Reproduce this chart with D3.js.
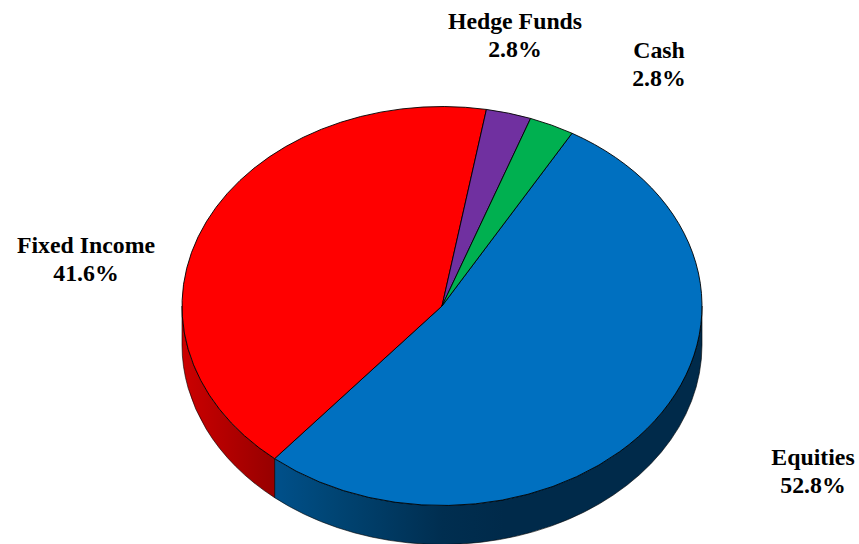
<!DOCTYPE html>
<html><head><meta charset="utf-8">
<script src="https://cdn.jsdelivr.net/npm/d3@7"></script>
<style>html,body{margin:0;padding:0;background:#fff}svg{display:block}
text{font-family:"Liberation Serif","Times New Roman",serif;font-weight:bold;font-size:23.8px;fill:#000;text-anchor:middle}</style>
</head><body><svg width="859" height="544"></svg>
<script>
const categories=["Equities","Fixed Income","Hedge Funds","Cash"];
const values=[52.8,41.6,2.8,2.8];
const colors=["#0070c0","#ff0000","#7030a0","#00b050"];
const labelX=[813,86,515,659];
const labelY=[465,253,29,58];
const W=859,H=544,cx=442,cy=306,rx=260,ry=199.5,depth=39;
const k=ry/rx, sd=depth/k;
const svg=d3.select("svg");
const defs=svg.append("defs");
function grad(id,stops){
  const g=defs.append("linearGradient").attr("id",id).attr("gradientUnits","userSpaceOnUse")
    .attr("x1",-rx).attr("x2",rx).attr("y1",0).attr("y2",0);
  stops.forEach(s=>g.append("stop").attr("offset",s[0]).attr("stop-color",s[1]));
}
grad("wall0",[[0,"#00518c"],[0.17,"#00518c"],[0.28,"#004676"],[0.5,"#002e50"],[0.62,"#002a4a"],[1,"#002a4a"]]);
grad("wall1",[[0,"#cc0000"],[0.17,"#990000"],[1,"#990000"]]);
const pie=d3.pie().sort(null).startAngle(Math.PI/6).endAngle(Math.PI/6+2*Math.PI);
const arcs=pie(values);
const arc=d3.arc().innerRadius(0).outerRadius(rx);
const g=svg.append("g").attr("transform",`translate(${cx},${cy}) scale(1,${k})`);
const lo=Math.PI/2, hi=3*Math.PI/2;
arcs.forEach((d,i)=>{
  const a0=Math.max(d.startAngle,lo), a1=Math.min(d.endAngle,hi);
  if(a1<=a0)return;
  const p=d3.path(), t=a=>a-Math.PI/2;
  p.arc(0,0,rx,t(a0),t(a1));
  p.lineTo(rx*Math.cos(t(a1)),sd+rx*Math.sin(t(a1)));
  p.arc(0,sd,rx,t(a1),t(a0),true);
  p.closePath();
  g.append("path").attr("d",p.toString()).attr("fill",`url(#wall${i})`)
   .attr("stroke","#000").attr("stroke-width",0.6).attr("vector-effect","non-scaling-stroke");
});
g.selectAll("path.slice").data(arcs).join("path").attr("class","slice")
 .attr("d",arc).attr("fill",(d,i)=>colors[i])
 .attr("stroke","#000").attr("stroke-width",0.9).attr("stroke-linejoin","round").attr("vector-effect","non-scaling-stroke");
categories.forEach((c,i)=>{
  const t=svg.append("text").attr("x",labelX[i]).attr("y",labelY[i]);
  t.append("tspan").attr("x",labelX[i]).text(c);
  t.append("tspan").attr("x",labelX[i]).attr("dy",28).text(values[i].toFixed(1)+"%");
});
</script></body></html>
